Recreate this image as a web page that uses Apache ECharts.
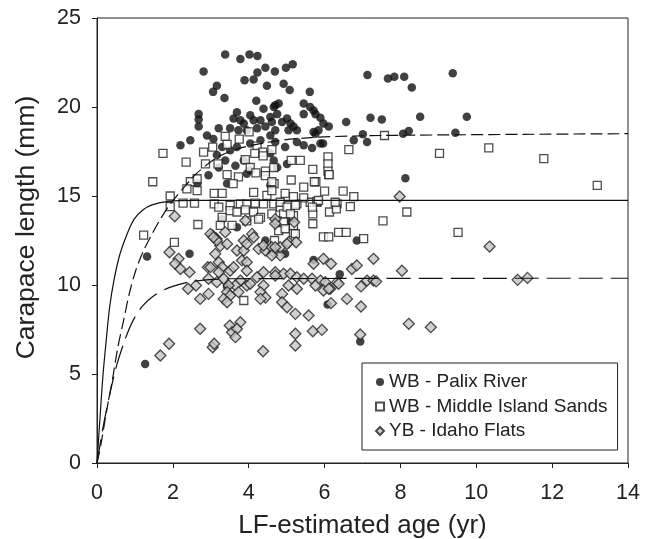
<!DOCTYPE html>
<html><head><meta charset="utf-8">
<script src="https://cdn.jsdelivr.net/npm/echarts@6/dist/echarts.min.js"></script>
<style>html,body{margin:0;padding:0;background:#fff}#c{width:648px;height:539px}</style>
</head><body><div id="c"></div>
<script>
const xTicks = [0, 2, 4, 6, 8, 10, 12, 14];
const yTicks = [0, 5, 10, 15, 20, 25];
const seriesNames = ['WB - Palix River', 'WB - Middle Island Sands', 'YB - Idaho Flats'];

const palixRiver = [
[3.38,22.95],[3.78,22.7],[4.02,22.95],[4.23,22.86],[2.81,22.0],[4.23,21.94],[4.44,22.2],[4.69,22.0],[5.16,22.4],[4.98,22.2],
[3.89,21.5],[4.13,21.55],[4.48,21.2],[3.16,21.2],[3.06,20.85],[3.36,20.5],[4.20,20.35],[4.39,19.9],[4.70,20.1],[4.92,21.3],
[5.08,20.95],[5.61,20.85],[2.68,19.6],[2.68,19.3],[2.68,18.9],[3.69,19.7],[3.60,19.35],[3.78,19.26],[4.04,19.54],[4.13,19.26],
[4.31,19.26],[4.57,19.44],[3.21,18.8],[3.51,18.8],[3.73,18.7],[3.95,18.7],[4.22,18.8],[4.44,18.9],[4.57,18.4],[2.90,18.4],
[3.07,18.2],[2.46,18.13],[2.20,17.85],[3.30,17.75],[3.51,17.57],[3.69,17.75],[4.04,17.95],[4.31,18.13],[3.16,17.3],[3.38,17.0],
[3.65,16.7],[3.21,16.6],[3.87,17.0],[4.04,16.44],[2.94,16.16],[4.75,16.6],[4.57,17.4],
[4.66,20.0],[4.79,20.2],[4.75,19.6],[4.61,19.16],[4.88,19.16],[5.01,19.35],[5.18,18.9],[5.05,18.7],[5.45,20.2],[5.62,20.0],
[5.76,19.6],[5.89,19.4],[5.97,19.07],[6.11,18.9],[5.84,18.7],[5.71,18.6],[4.70,18.7],[5.27,18.7],[5.89,17.95],[5.67,17.7],
[5.45,17.85],[5.27,18.04],[4.96,17.75],[4.70,18.04],[4.66,17.0],[5.01,16.8],[5.45,19.6],[5.71,19.8],[5.76,18.5],[5.10,19.07],[3.87,19.07],
[6.57,19.16],[7.21,19.4],[7.51,19.3],[7.01,18.47],[6.77,18.13],[7.12,18.04],[7.13,21.8],[7.67,21.6],[7.84,21.7],[8.10,21.7],
[8.30,21.1],[9.38,21.9],[8.52,19.45],[9.75,19.45],[8.07,18.5],[8.22,18.65],[9.45,18.55],[5.96,17.95],[8.13,16.0],
[2.65,15.7],[3.43,15.7],[4.57,15.6],[3.95,16.25],[1.32,11.6],[2.44,11.75],[3.30,13.7],[3.69,13.25],[4.44,12.5],[4.96,11.75],
[5.08,13.6],[6.85,12.5],[6.40,10.6],[6.08,8.9],[6.94,6.83],[1.27,5.56],[5.71,11.4],[3.43,9.9]
];

const middleIslandSands = [
[1.74,17.4],[1.47,15.8],[2.35,16.9],[2.81,17.47],[2.86,16.8],[3.05,17.75],[3.38,18.35],[3.43,17.9],[3.75,18.2],[4.01,18.6],
[4.22,17.8],[4.37,17.47],[4.61,17.6],[4.16,17.4],[4.38,17.25],[3.19,16.8],[3.43,16.2],[3.73,16.07],[3.91,17.04],[4.04,16.6],
[4.19,16.3],[4.44,16.4],[4.66,16.6],[5.12,17.0],[5.36,17.0],[5.69,16.5],[6.09,17.2],[6.09,16.8],[6.09,16.4],[6.64,17.6],
[7.58,18.4],[5.12,15.9],[5.77,15.8],[3.59,15.7],[4.67,15.7],[2.46,15.8],[5.45,15.5],[9.03,17.4],[10.33,17.7],[11.78,17.1],[13.19,15.6],
[1.93,15.0],[1.93,14.4],[1.23,12.8],[2.04,12.4],[2.66,13.4],[2.37,15.4],[2.64,15.97],[2.64,15.3],[2.27,14.6],[2.57,14.6],
[3.09,15.15],[3.30,15.15],[3.09,14.56],[3.21,14.37],[3.51,14.47],[3.78,14.56],[3.95,14.56],[4.17,14.6],[4.39,14.56],[4.66,14.56],
[4.83,14.37],[5.05,14.47],[5.27,14.56],[5.62,14.65],[5.80,14.65],[6.33,14.56],[6.68,14.4],[4.13,15.2],[4.48,15.03],[4.61,15.3],
[4.96,15.15],[5.18,14.97],[5.73,15.8],[6.0,15.27],[6.11,16.2],[6.49,15.27],[6.77,14.97],[4.44,16.15],[4.61,15.8],
[3.30,13.8],[3.51,14.18],[3.69,14.1],[3.91,14.22],[4.13,14.1],[4.31,13.8],[4.61,14.0],[4.92,14.0],[5.18,13.9],
[3.25,13.35],[3.56,13.35],[3.95,13.6],[4.26,13.7],[4.75,13.6],[4.79,13.05],[5.18,12.96],[5.69,14.0],[6.13,14.1],[5.69,13.44],
[5.97,12.7],[6.11,12.7],[6.37,12.96],[6.57,12.96],[7.03,12.6],[7.54,13.6],[4.68,12.5],[3.87,9.13],
[8.17,14.1],[9.52,12.96],[5.80,14.7],[6.31,14.28],[5.45,14.9],[5.84,14.75],[6.28,14.65],[5.68,14.37],[4.83,14.65],[5.01,14.37],
[5.23,14.47],[5.10,14.0],[4.92,13.53],[5.18,13.34],[4.96,13.16],[5.23,12.88],[6.12,16.2]
];

const idahoFlats = [
[2.05,13.86],[1.91,11.84],[2.15,11.47],[2.06,11.19],[2.20,10.9],[2.44,10.72],[2.61,9.97],[2.40,9.79],[2.72,9.22],[2.94,9.5],
[2.92,11.0],[2.94,10.35],[2.72,7.54],[3.05,6.5],[3.09,6.7],[1.90,6.7],[1.67,6.04],[3.05,12.78],[3.15,12.6],[3.38,12.97],
[3.25,12.2],[3.43,12.3],[3.12,11.75],[3.21,11.28],[2.99,11.0],[3.30,11.0],[3.21,10.72],[3.16,10.16],[3.34,10.35],[3.51,10.8],
[3.60,11.0],[3.69,11.94],[3.87,11.94],[3.82,11.38],[3.95,11.28],[3.95,10.8],[3.78,10.25],[3.65,9.97],[3.47,9.97],[3.43,9.6],
[3.51,9.41],[3.34,9.22],[3.43,9.03],[3.73,9.6],[3.95,9.97],[4.04,10.07],[4.22,10.44],[4.39,10.72],[4.39,9.97],[4.31,9.6],
[4.44,9.3],[4.31,9.22],[3.87,12.5],[3.95,12.3],[4.09,12.87],[4.13,12.68],[3.91,13.62],[4.26,12.03],[4.44,11.94],[4.66,11.84],
[4.83,11.66],[4.39,12.22],[4.61,12.12],[4.83,12.12],[5.05,12.4],[5.25,12.4],[4.70,13.7],[5.20,13.53],[4.70,10.72],[4.92,10.63],
[5.10,10.63],[5.27,10.44],[5.45,10.35],[5.67,10.35],[5.89,10.25],[6.02,10.16],[6.33,10.16],[5.05,9.97],[5.27,9.79],[4.88,9.5],
[4.88,9.03],[5.01,8.75],[5.23,8.38],[5.58,8.29],[5.71,11.19],[5.97,11.47],[6.17,11.19],[5.76,9.97],[5.97,9.69],[6.37,10.07],
[6.59,9.22],[6.17,8.98],[6.96,8.79],[6.72,10.9],[6.85,11.1],[7.29,11.47],[7.12,10.25],[7.29,10.25],[6.96,9.92],
[3.50,7.72],[3.78,7.91],[3.56,7.35],[3.69,7.54],[3.65,7.07],[4.38,6.28],[5.23,7.26],[5.23,6.6],[5.69,7.4],[5.93,7.48],[6.94,7.22],
[7.98,14.97],[10.35,12.16],[11.09,10.29],[11.35,10.4],[8.04,10.8],[7.36,10.2],[6.15,9.79],[8.22,7.82],[8.80,7.63],
[2.99,12.87],[3.16,12.5],[3.07,12.68],[4.70,10.53],[5.01,12.3],[4.70,12.12],[4.61,11.66],[4.70,13.44],[6.11,9.79]
];

// growth curves
const curveSolid = [[0,0],[0.05,1.6],[0.1,3.2],[0.16,5.0],[0.23,6.6],[0.33,8.7],[0.45,10.3],[0.6,11.7],[0.78,12.8],[0.98,13.7],[1.2,14.2],[1.45,14.5],[1.9,14.7],[2.6,14.75],[14,14.75]];
const curveMedDash = [[0,0],[0.1,1.0],[0.25,2.9],[0.4,4.6],[0.55,6.5],[0.7,8.0],[0.85,9.5],[1.02,10.8],[1.22,11.9],[1.46,12.9],[1.7,13.8],[1.95,14.6],[2.3,15.5],[2.64,16.3],[3.2,17.2],[3.78,17.7],[4.75,18.1],[5.8,18.3],[7.55,18.4],[14,18.5]];
const curveLongDash = [[0,0],[0.15,1.9],[0.32,3.7],[0.52,5.5],[0.75,7.0],[0.95,8.0],[1.19,8.8],[1.5,9.4],[1.9,9.85],[2.5,10.2],[3.5,10.35],[14,10.38]];

const FONT = '"Liberation Sans", Arial, Helvetica, sans-serif';
const INK = '#222';

const chart = echarts.init(document.getElementById('c'), null, {renderer: 'canvas'});
chart.setOption({
  animation: false,
  backgroundColor: '#fff',
  grid: {left: 97, right: 20, top: 18, bottom: 76, outerBoundsMode: 'none', containLabel: false,
         show: true, borderColor: INK, borderWidth: 1, backgroundColor: 'transparent'},
  xAxis: {
    type: 'value', min: xTicks[0], max: xTicks[xTicks.length - 1], interval: 2,
    name: 'LF-estimated age (yr)', nameLocation: 'middle', nameGap: 50,
    nameTextStyle: {fontFamily: FONT, fontSize: 26, color: INK},
    axisLine: {show: true, lineStyle: {color: INK, width: 1}},
    axisTick: {show: true, inside: false, length: 5, lineStyle: {color: INK}},
    axisLabel: {fontFamily: FONT, fontSize: 21.5, color: INK, margin: 19},
    splitLine: {show: false}
  },
  yAxis: {
    type: 'value', min: yTicks[0], max: yTicks[yTicks.length - 1], interval: 5,
    name: 'Carapace length (mm)', nameLocation: 'middle', nameGap: 57,
    nameTextStyle: {fontFamily: FONT, fontSize: 26.5, color: INK, padding: [0, 0, 0, 26]},
    axisLine: {show: true, lineStyle: {color: INK, width: 1}},
    axisTick: {show: true, inside: false, length: 5, lineStyle: {color: INK}},
    axisLabel: {fontFamily: FONT, fontSize: 21.5, color: INK, margin: 16},
    splitLine: {show: false}
  },
  legend: {
    orient: 'vertical', left: 362, top: 363,
    data: seriesNames,
    itemWidth: 8, itemHeight: 8, itemGap: 4.5,
    padding: [9, 10, 9, 13],
    borderColor: INK, borderWidth: 1, backgroundColor: '#fff',
    textStyle: {fontFamily: FONT, fontSize: 19, color: INK, lineHeight: 20}
  },
  series: [
    {name: seriesNames[0], type: 'scatter', data: palixRiver, symbol: 'circle', symbolSize: 8.5,
     itemStyle: {color: '#111', borderColor: '#111', borderWidth: 0}, z: 2},
    {name: seriesNames[1], type: 'scatter', data: middleIslandSands, symbol: 'rect', symbolSize: 8,
     itemStyle: {color: '#fff', borderColor: '#222', borderWidth: 1.3}, z: 3},
    {name: seriesNames[2], type: 'scatter', data: idahoFlats, symbol: 'diamond', symbolSize: 11,
     itemStyle: {color: '#c4c4c4', borderColor: '#222', borderWidth: 1.3}, z: 4},
    {type: 'line', data: curveSolid, showSymbol: false, smooth: 0.3, z: 5,
     lineStyle: {color: '#111', width: 1.2, type: 'solid'}},
    {type: 'line', data: curveMedDash, showSymbol: false, smooth: 0.3, z: 5,
     lineStyle: {color: '#111', width: 1.2, type: [12, 5]}},
    {type: 'line', data: curveLongDash, showSymbol: false, smooth: 0.3, z: 5,
     lineStyle: {color: '#111', width: 1.2, type: [24, 8]}}
  ]
});
</script>
</body></html>
